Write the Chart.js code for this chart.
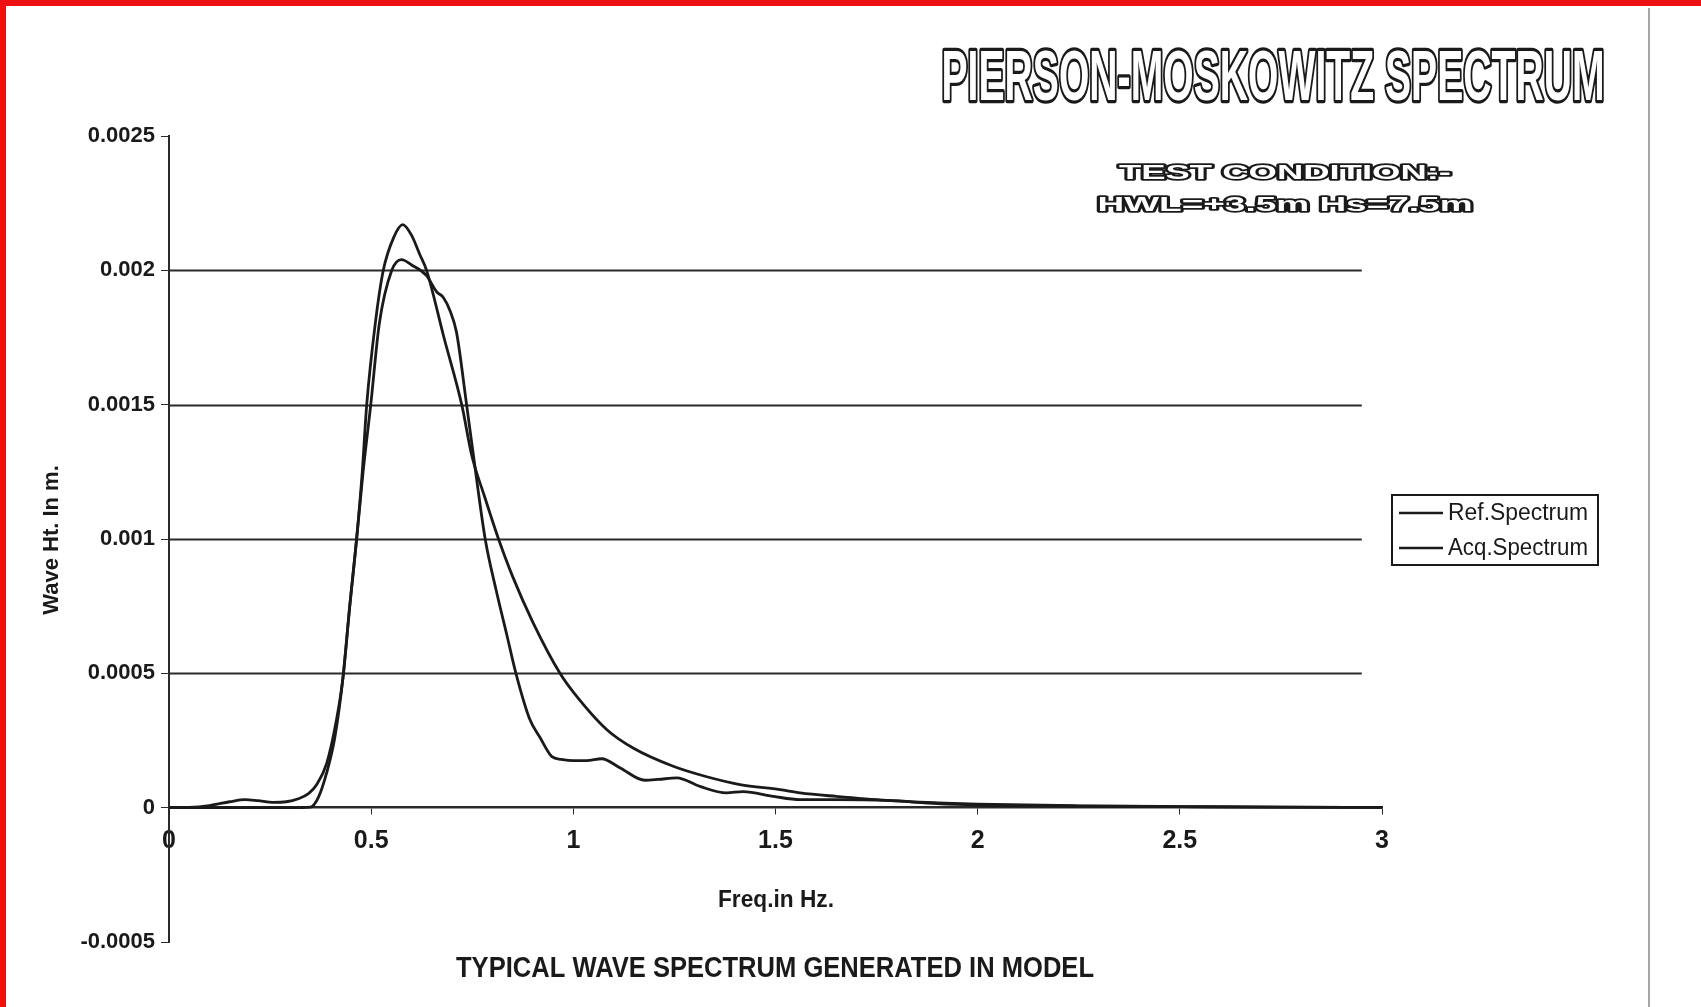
<!DOCTYPE html>
<html>
<head>
<meta charset="utf-8">
<script src="https://cdn.jsdelivr.net/npm/chart.js@4.4.1/dist/chart.umd.min.js"></script>
<style>
  html, body { margin: 0; padding: 0; background: #fff; }
  #wrap { width: 1701px; height: 1007px; }
</style>
</head>
<body>
<div id="wrap"><canvas id="myChart" width="1701" height="1007"></canvas></div>
<script>
'use strict';
// values (freq in Hz, wave ht in m)
let refFreq = [0, 0.30, 0.35, 0.37, 0.39, 0.41, 0.43, 0.447, 0.464, 0.478, 0.489, 0.51, 0.53, 0.555, 0.578,
    0.60, 0.62, 0.637, 0.68, 0.724, 0.749, 0.78, 0.815, 0.85, 0.90, 0.967, 1.0, 1.083, 1.15, 1.247, 1.33,
    1.412, 1.511, 1.561, 1.65, 1.775, 1.9, 2.0, 2.25, 2.5, 2.75, 3.0]
let refVal = [0, 0, 0.000002, 0.00004, 0.00013, 0.00026, 0.00048, 0.00075, 0.001, 0.00125, 0.0015, 0.0018, 0.002, 0.00212, 0.00217,
    0.00213, 0.00206, 0.002, 0.00175, 0.0015, 0.00131, 0.00116, 0.001, 0.00086, 0.00069, 0.0005, 0.00043, 0.00029, 0.00022, 0.000154, 0.000115,
    0.000086, 0.000067, 0.000055, 0.000042, 0.000027, 0.000018, 0.000013, 0.000007, 0.000004, 0.000002, 0.000001]

let acqFreq = [0, 0.05, 0.10, 0.15, 0.188, 0.22, 0.257, 0.29, 0.32, 0.345, 0.365, 0.39, 0.414, 0.43, 0.447,
    0.464, 0.48, 0.499, 0.52, 0.551, 0.575, 0.60, 0.637, 0.662, 0.678, 0.695, 0.711, 0.736, 0.753, 0.782,
    0.809, 0.836, 0.858, 0.892, 0.918, 0.947, 0.97, 1.0, 1.033, 1.07, 1.116, 1.177, 1.21, 1.256, 1.313,
    1.379, 1.42, 1.495, 1.561, 1.647, 1.775, 1.9, 2.0, 2.25, 2.5, 2.75, 3.0]
let acqVal = [0, 0.000001, 0.000008, 0.000022, 0.00003, 0.000026, 0.00002, 0.000022, 0.000033, 0.000052, 0.000085, 0.000165, 0.000325, 0.00048, 0.00075,
    0.001, 0.00125, 0.0015, 0.0018, 0.002, 0.00204, 0.00202, 0.00198, 0.00192, 0.0019, 0.00185, 0.00177, 0.0015, 0.00131, 0.001,
    0.00081, 0.00064, 0.0005, 0.00033, 0.00026, 0.00019, 0.00018, 0.000175, 0.000175, 0.000182, 0.000148, 0.000102, 0.000105, 0.000111, 0.000079,
    0.000055, 0.00006, 0.000042, 0.00003, 0.00003, 0.000027, 0.000015, 0.00001, 0.000006, 0.000004, 0.000002, 0.000001]

let seriesNames = ['Ref.Spectrum', 'Acq.Spectrum']
let yMin = -0.0005, yMax = 0.0025, yStep = 0.0005
let xMin = 0, xMax = 3, xStep = 0.5
let gridEnd = 2.95   // horizontal grid lines stop a bit short of the last x tick

let mainTitle = 'PIERSON-MOSKOWITZ SPECTRUM'
let condLine1 = 'TEST CONDITION:-'
let condLine2 = 'HWL=+3.5m Hs=7.5m'
let xTitle = 'Freq.in Hz.'
let yTitle = 'Wave Ht. In m.'
let caption = 'TYPICAL WAVE SPECTRUM GENERATED IN MODEL'

let narrow = '"Liberation Sans Narrow", "Arial Narrow", "Liberation Sans", sans-serif'
let ink = '#1a1a1a'

function toPoints(xs, ys) {
    let out = []
    for (let i = 0; i < xs.length; i++) {
        out.push({ x: xs[i], y: ys[i] })
    }
    return out
}

// hollow text, squeezed/stretched to a given width
function outlineText(ctx, text, cx, baseY, font, width, lw) {
    ctx.save()
    ctx.font = font
    let w = ctx.measureText(text).width
    ctx.translate(cx, baseY)
    ctx.scale(width / w, 1)
    ctx.textAlign = 'center'
    ctx.textBaseline = 'alphabetic'
    ctx.lineJoin = 'round'
    ctx.lineWidth = lw
    ctx.strokeStyle = ink
    ctx.strokeText(text, 0, 0)
    ctx.fillStyle = '#fff'
    ctx.fillText(text, 0, 0)
    ctx.restore()
}

let pagePlugin = {
    id: 'page',
    beforeDraw(chart) {
        let ctx = chart.ctx
        ctx.save()
        ctx.fillStyle = '#fff'
        ctx.fillRect(0, 0, chart.width, chart.height)
        // scan frame
        ctx.fillStyle = '#ee1111'
        ctx.fillRect(0, 0, chart.width, 6)
        ctx.fillRect(0, 0, 6, chart.height)
        ctx.strokeStyle = '#8a8a8a'
        ctx.lineWidth = 1.5
        ctx.beginPath()
        ctx.moveTo(1649, 8)
        ctx.lineTo(1649, chart.height)
        ctx.stroke()
        ctx.restore()
    },
    beforeDatasetsDraw(chart) {
        let ctx = chart.ctx
        let xs = chart.scales.x, ys = chart.scales.y
        ctx.save()
        ctx.strokeStyle = '#2a2a2a'
        ctx.lineWidth = 2
        ys.ticks.forEach(function (t) {
            if (t.value > 0 && t.value < yMax) {
                let py = Math.round(ys.getPixelForValue(t.value)) + 0.5
                ctx.beginPath()
                ctx.moveTo(xs.getPixelForValue(xMin), py)
                ctx.lineTo(xs.getPixelForValue(gridEnd), py)
                ctx.stroke()
            }
        })
        ctx.restore()
    },
    afterDraw(chart) {
        let ctx = chart.ctx
        ctx.save()
        outlineText(ctx, mainTitle, 1273, 100, 'bold 71px ' + narrow, 663, 6.5)
        outlineText(ctx, condLine1, 1285, 179, 'bold 20px "Liberation Sans", sans-serif', 332, 3.5)
        outlineText(ctx, condLine2, 1285, 211, 'bold 20px "Liberation Sans", sans-serif', 375, 3.5)

        ctx.fillStyle = ink
        ctx.textAlign = 'center'
        ctx.textBaseline = 'middle'
        ctx.font = 'bold 24px ' + narrow
        ctx.fillText(xTitle, 776, 900, 116)
        ctx.font = 'bold 29px ' + narrow
        ctx.fillText(caption, 775, 969, 638)

        ctx.save()
        ctx.translate(52, 540)
        ctx.rotate(-Math.PI / 2)
        ctx.font = 'bold 22px ' + narrow
        ctx.fillText(yTitle, 0, 0, 158)
        ctx.restore()

        // legend box
        let bx = 1392, by = 495, bw = 206, bh = 70
        ctx.fillStyle = '#fff'
        ctx.fillRect(bx, by, bw, bh)
        ctx.strokeStyle = ink
        ctx.lineWidth = 2
        ctx.strokeRect(bx, by, bw, bh)
        ctx.font = '23px ' + narrow
        ctx.textAlign = 'left'
        chart.data.datasets.forEach(function (ds, i) {
            let ly = by + 18 + i * 35
            ctx.strokeStyle = ds.borderColor
            ctx.lineWidth = 2.5
            ctx.beginPath()
            ctx.moveTo(bx + 7, ly)
            ctx.lineTo(bx + 51, ly)
            ctx.stroke()
            ctx.fillStyle = ink
            ctx.fillText(ds.label, bx + 56, ly + 1, 140)
        })
        ctx.restore()
    }
}

let ctx = document.getElementById('myChart').getContext('2d')

let myChart = new Chart(ctx, {
    type: 'line',
    data: {
        datasets: [{
            label: seriesNames[0],
            data: toPoints(refFreq, refVal),
            borderColor: ink,
            borderWidth: 2.8,
            pointRadius: 0,
            cubicInterpolationMode: 'monotone',
            fill: false
        }, {
            label: seriesNames[1],
            data: toPoints(acqFreq, acqVal),
            borderColor: ink,
            borderWidth: 2.8,
            pointRadius: 0,
            cubicInterpolationMode: 'monotone',
            fill: false
        }]
    },
    options: {
        responsive: false,
        animation: false,
        layout: { padding: { left: 0, top: 136, right: 319, bottom: 65 } },
        plugins: {
            legend: { display: false },
            tooltip: { enabled: false }
        },
        scales: {
            x: {
                type: 'linear',
                min: xMin,
                max: xMax,
                position: { y: 0 },
                border: { display: true, color: '#2a2a2a', width: 2.5 },
                grid: { drawOnChartArea: false, drawTicks: true, tickLength: 6, color: '#2a2a2a' },
                ticks: {
                    stepSize: xStep,
                    padding: 12,
                    color: ink,
                    font: { family: narrow, size: 25, weight: 'bold' },
                    callback: function (v) { return String(Number(v.toFixed(1))) }
                }
            },
            y: {
                type: 'linear',
                min: yMin,
                max: yMax,
                afterFit(scale) { scale.width = 169 },
                border: { display: true, color: '#2a2a2a', width: 2 },
                grid: { drawOnChartArea: false, drawTicks: true, tickLength: 8, color: '#2a2a2a' },
                ticks: {
                    stepSize: yStep,
                    padding: 6,
                    color: ink,
                    font: { family: '"Liberation Sans", Arial, sans-serif', size: 22, weight: 'bold' },
                    callback: function (v) { return String(Number(v.toFixed(4))) }
                }
            }
        }
    },
    plugins: [pagePlugin]
});
</script>
</body>
</html>
